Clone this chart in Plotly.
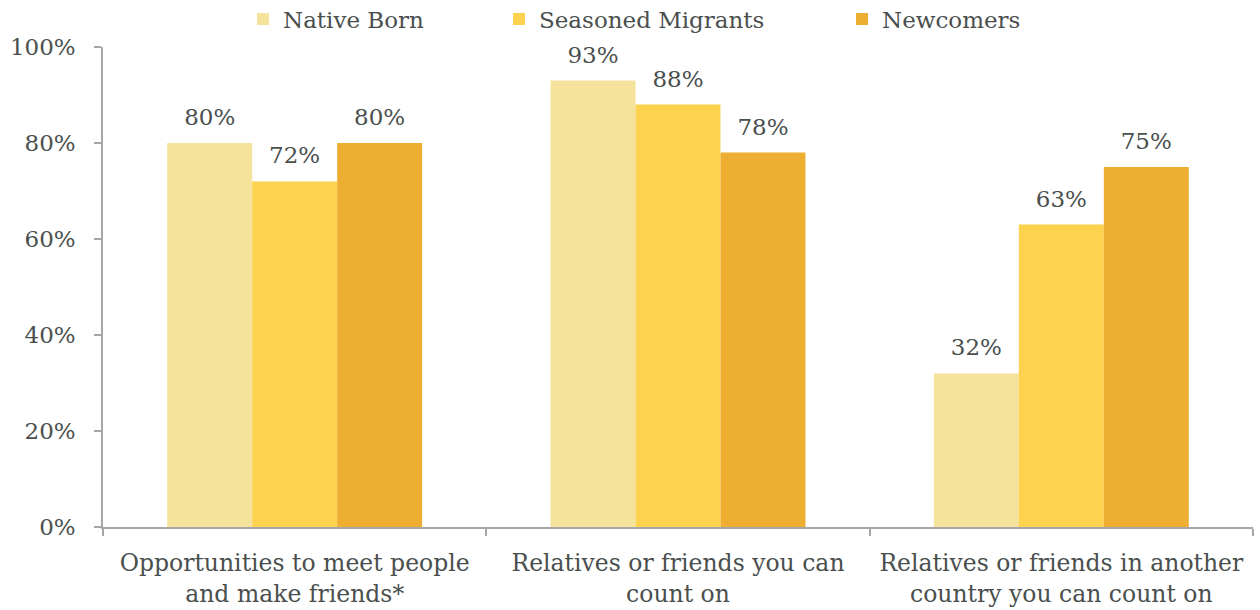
import plotly.graph_objects as go

categories = [
    "Opportunities to meet people<br>and make friends*",
    "Relatives or friends you can<br>count on",
    "Relatives or friends in another<br>country you can count on",
]
series_names = ["Native Born", "Seasoned Migrants", "Newcomers"]
native_born = [80, 93, 32]
seasoned_migrants = [72, 88, 63]
newcomers = [80, 78, 75]
y_ticks = [0, 20, 40, 60, 80, 100]
y_tick_labels = ["0%", "20%", "40%", "60%", "80%", "100%"]

colors = ["#F5E29B", "#FCD24F", "#EDAE32"]
text_color = "#4A4F4E"
axis_color = "#A6A6A6"
font_family = "DejaVu Serif"

values = [native_born, seasoned_migrants, newcomers]
legend_ids = ["legend", "legend2", "legend3"]
legend_x = [258, 514, 857]
gap = 0.335

fig = go.Figure()
for name, vals, col, lid in zip(series_names, values, colors, legend_ids):
    fig.add_trace(go.Bar(
        name=name,
        x=categories,
        y=vals,
        marker=dict(color=col, line=dict(width=0)),
        legend=lid,
        hoverinfo="skip",
    ))

# value labels, grouped the same way as the bars
for name, vals in zip(series_names, values):
    fig.add_trace(go.Scatter(
        x=categories,
        y=vals,
        mode="markers+text",
        marker=dict(size=18, opacity=0),
        text=[f"{v}%" for v in vals],
        textposition="top center",
        textfont=dict(family=font_family, size=23, color=text_color),
        cliponaxis=False,
        showlegend=False,
        hoverinfo="skip",
    ))

legend_common = dict(
    orientation="h",
    font=dict(family=font_family, size=23, color=text_color),
    bgcolor="rgba(0,0,0,0)",
    xref="container", yref="container",
    xanchor="left", yanchor="middle",
    y=1 - 19 / 610,
    itemwidth=30,
    itemclick=False, itemdoubleclick=False,
)

layout_legends = {}
for lid, lx in zip(legend_ids, legend_x):
    layout_legends[lid] = dict(legend_common, x=(lx - 15) / 1260)

fig.update_layout(
    width=1260, height=610,
    margin=dict(l=103, r=7, t=47, b=83, autoexpand=False),
    paper_bgcolor="white", plot_bgcolor="white",
    barmode="group",
    bargap=gap,
    bargroupgap=0,
    scattermode="group",
    scattergap=gap,
    showlegend=True,
    font=dict(family=font_family, color=text_color),
    xaxis=dict(
        showline=True, linecolor=axis_color, linewidth=1.5,
        ticks="outside", tickson="boundaries", ticklen=7, tickcolor=axis_color, tickwidth=1.5,
        tickfont=dict(family=font_family, size=23.5, color=text_color),
        ticklabelstandoff=14,
        showgrid=False, zeroline=False,
    ),
    yaxis=dict(
        range=[0, 100],
        tickvals=y_ticks, ticktext=y_tick_labels,
        showline=True, linecolor=axis_color, linewidth=1.5,
        ticks="outside", ticklen=7, tickcolor=axis_color, tickwidth=1.5,
        tickfont=dict(family=font_family, size=23, color=text_color),
        ticklabelstandoff=14,
        showgrid=False, zeroline=False,
    ),
    **layout_legends,
)

fig.write_html("out.html")
